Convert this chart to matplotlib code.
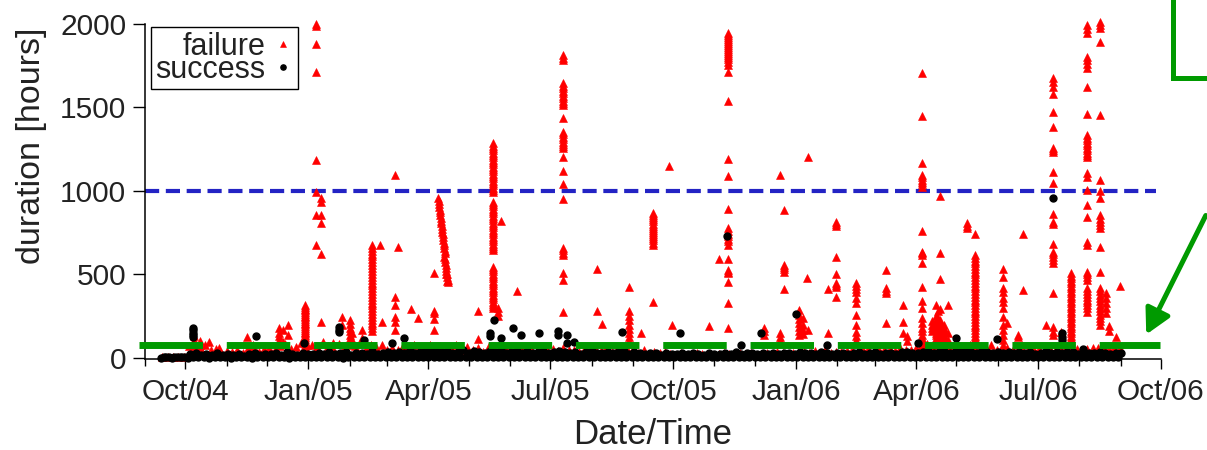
import numpy as np
import matplotlib
matplotlib.use("Agg")
import matplotlib.pyplot as plt
import matplotlib.dates as mdates
from matplotlib.lines import Line2D
from matplotlib.patches import FancyArrowPatch

plt.rcParams['font.family'] = ['Liberation Sans', 'DejaVu Sans']

# ---------------- data ----------------
# failed runs: date -> durations [hours] seen at that date
fail_dates = [
    '2004-10-08', '2004-10-12', '2004-10-19', '2004-10-26', '2004-11-16', '2004-11-21',
    '2004-12-10', '2004-12-13', '2004-12-17', '2004-12-30',
    '2005-01-07', '2005-01-11', '2005-01-20', '2005-01-26', '2005-02-01', '2005-02-03',
    '2005-02-10', '2005-02-18', '2005-02-24', '2005-02-25',
    '2005-03-07', '2005-03-09', '2005-03-19', '2005-03-24', '2005-04-05',
    '2005-05-08', '2005-05-19', '2005-05-23', '2005-05-25', '2005-06-06',
    '2005-07-11', '2005-08-05', '2005-08-09', '2005-08-29', '2005-09-07',
    '2005-09-16', '2005-09-28', '2005-09-30', '2005-10-28', '2005-11-04', '2005-11-11',
    '2005-12-08', '2005-12-20', '2005-12-23',
    '2006-01-03', '2006-01-06', '2006-01-09', '2006-01-10', '2006-01-25', '2006-01-31',
    '2006-02-15', '2006-03-09', '2006-03-22', '2006-03-25',
    '2006-04-05', '2006-04-13', '2006-04-16', '2006-04-17', '2006-04-19', '2006-04-22',
    '2006-04-25', '2006-05-09', '2006-05-15', '2006-06-05', '2006-06-08', '2006-06-16',
    '2006-06-20', '2006-07-07', '2006-07-12', '2006-07-18', '2006-07-26',
    '2006-08-07', '2006-08-16', '2006-08-21', '2006-08-23', '2006-08-28', '2006-08-31',
]
fail_hours = [
    [130, 110, 95, 80, 70], [100, 75, 60], [98], [60], [128], [75, 55],
    [180, 150, 130, 110], [165, 95], [198, 140],
    [317, 305, 296, 287, 276, 265, 254, 244, 233, 222, 212, 201, 190, 180, 168,
     158, 147, 136, 124, 113, 102, 90, 80, 68, 58],
    [2000, 1990, 1878, 1714, 1186, 996, 856, 677],
    [956, 936, 856, 806, 621, 218], [90], [248, 200],
    [230, 205, 180, 160, 140, 120, 100], [150, 110], [168, 120],
    [677, 660, 642, 625, 608, 590, 573, 556, 538, 521, 504, 487, 470, 452, 435, 418,
     401, 384, 366, 349, 332, 315, 298, 280, 263, 246, 229, 212, 195, 178, 160],
    [677], [218],
    [1096, 367, 317, 247, 217, 168], [663], [291], [241], [507, 281, 268, 231, 165],
    [281, 115],
    [1286, 1272, 1258, 1244, 1230, 1216, 1202, 1188, 1174, 1160, 1146, 1132, 1118, 1104,
     1090, 1076, 1062, 1048, 1034, 1020, 1008, 996,
     936, 922, 908, 894, 880, 866, 852, 838, 824, 810, 796, 782, 768, 754, 740, 726,
     712, 698, 684, 670, 658, 647,
     547, 533, 519, 505, 491, 477, 463, 449, 435, 421, 407, 393, 379, 365, 351, 337,
     323, 310, 298],
    [298, 275, 250], [820], [401],
    [1814, 1795, 1784, 1645, 1630, 1615, 1600, 1585, 1570, 1555, 1540, 1525, 1515, 1435,
     1355, 1340, 1325, 1310, 1295, 1280, 1268, 1256, 1205, 1120, 1040, 952, 657, 645,
     630, 617, 507, 467, 277],
    [533, 281], [204], [427, 281, 250, 225, 200, 175, 150, 125, 100], [150],
    [866, 855, 842, 830, 818, 805, 792, 780, 768, 755, 742, 730, 717, 704, 690, 677, 333],
    [1150], [198], [193], [593],
    [1944, 1932, 1920, 1908, 1896, 1884, 1872, 1860, 1848, 1836, 1824, 1812, 1800, 1790,
     1775, 1754, 1711, 1541, 1190, 1090, 890, 777, 760, 745, 730, 715, 700, 677, 591,
     527, 517, 507, 453, 328, 181],
    [178, 160, 140], [1096, 148, 128, 108], [886, 557, 545, 530, 517, 413],
    [290, 260, 235, 210, 185, 160, 140], [240, 200, 170, 145], [481], [1205, 168],
    [413, 152], [816, 805, 792, 607, 501, 447, 437, 427, 367],
    [447, 430, 415, 398, 357, 327, 257, 198, 158, 130, 110, 95],
    [527, 417, 402, 387, 208], [317, 217, 150], [130, 100],
    [1705, 1451, 1169, 1096, 1082, 1068, 1054, 1040, 1026, 760, 637, 627, 617, 567, 423,
     343, 300, 241, 210, 181, 160, 138, 120, 100, 85],
    [221, 200, 180, 160],
    [317, 250, 230, 210, 190, 170, 150, 135, 120, 105, 90, 80],
    [280, 240, 200, 160, 120, 90],
    [970, 630, 471, 293, 230, 210, 190, 170, 150, 130],
    [200, 180, 160, 140, 120, 100], [317, 150, 110],
    [806, 792, 777],
    [742, 617, 600, 583, 567, 550, 533, 517, 500, 483, 467, 450, 433, 417, 400, 383,
     367, 350, 333, 317, 300, 283, 267, 250, 233, 217, 200, 183, 167, 150, 133, 117, 108],
    [533, 487, 417, 397, 357, 337, 297, 247, 198, 168, 138, 108, 78], [208], [128, 138],
    [741, 407], [198],
    [1675, 1650, 1625, 1579, 1475, 1385, 1256, 1246, 1236, 1116, 1046, 860, 816, 801,
     684, 637, 620, 603, 585, 567, 391, 188, 158, 138],
    [158],
    [507, 492, 477, 462, 447, 432, 417, 402, 387, 372, 357, 342, 327, 312, 297, 282,
     267, 252, 237, 222, 207, 192, 177, 162, 147, 132, 117, 102, 87, 72, 60],
    [1994, 1970, 1944, 1804, 1785, 1760, 1735, 1625, 1460, 1335, 1320, 1305, 1290, 1275,
     1260, 1245, 1230, 1218, 1205, 1106, 1086, 1006, 916, 846, 697, 677, 517, 500, 483,
     467, 417, 400, 383, 367, 350, 333, 317, 300, 277],
    [2014, 1994, 1974, 1894, 1455, 1066, 1000, 956, 856, 835, 815, 797, 777, 667, 517,
     419, 400, 380, 360, 340, 320, 300, 280, 260, 240, 220, 198],
    [390, 360, 330, 300, 270], [190, 160], [128], [433],
]

# the slanted streak of failures in April 2005
streak_times = [
    '2005-04-08T10', '2005-04-08T16', '2005-04-08T22', '2005-04-09T04', '2005-04-09T10',
    '2005-04-09T16', '2005-04-09T22', '2005-04-10T04', '2005-04-10T10', '2005-04-10T16',
    '2005-04-10T22', '2005-04-11T04', '2005-04-11T10', '2005-04-11T16', '2005-04-11T22',
    '2005-04-12T04', '2005-04-12T10', '2005-04-12T16', '2005-04-12T22', '2005-04-13T04',
    '2005-04-13T10', '2005-04-12T20', '2005-04-13T04', '2005-04-13T12', '2005-04-13T20',
    '2005-04-14T04', '2005-04-14T12', '2005-04-14T20', '2005-04-15T04', '2005-04-15T12',
    '2005-04-15T20', '2005-04-14T00', '2005-04-15T00',
]
streak_hours = [
    956, 940, 922, 905, 888, 872, 855, 838, 822, 806, 789, 772, 756, 740, 724, 707, 690,
    674, 658, 642, 627, 607, 590, 572, 555, 537, 520, 502, 485, 470, 457, 500, 462,
]

# successful runs standing out of the dense band
ok_dates = [
    '2004-10-07', '2004-11-23', '2004-12-29', '2005-01-24', '2005-02-12', '2005-03-05',
    '2005-03-14', '2005-05-17', '2005-05-20', '2005-05-25', '2005-06-03', '2005-06-09',
    '2005-06-23', '2005-07-07', '2005-07-14', '2005-07-19', '2005-08-24', '2005-10-06',
    '2005-11-10', '2005-11-21', '2005-12-06', '2006-01-01', '2006-01-24', '2006-04-02',
    '2006-05-01', '2006-05-31', '2006-07-12', '2006-07-19', '2006-08-04',
]
ok_hours = [
    [180, 165, 150, 140, 126], [132], [90], [188, 170, 158], [110], [90], [120],
    [150, 130], [228], [118], [178], [138], [148], [160, 135], [140, 90], [98], [158],
    [152], [732], [78], [148], [263], [78], [88], [118], [112], [960], [148, 128, 110],
    [52],
]

# dense band near zero, sampled every few days
band_start = '2004-09-13'
band_step_days = 4
ok_band_low = [
    2, 3, 2, 4, 3, 2, 5, 3, 4, 2, 4, 3, 5, 2, 4, 3, 6, 2, 5, 4,
    3, 5, 4, 6, 2, 4, 5, 3, 6, 4, 5, 3, 6, 4, 2, 5, 4, 6, 3, 5,
    4, 6, 3, 5, 4, 7, 3, 5, 6, 4, 5, 3, 6, 4, 5, 7, 4, 3, 6, 5,
    4, 6, 5, 3, 7, 4, 5, 6, 3, 5, 6, 4, 5, 7, 3, 5, 4, 6, 5, 3,
    5, 4, 6, 3, 5, 7, 4, 5, 3, 6, 4, 5, 3, 6, 4, 5, 7, 3, 5, 4,
    6, 3, 5, 4, 6, 5, 3, 7, 4, 5, 3, 5, 6, 4, 5, 3, 6, 4, 7, 5,
    4, 6, 3, 5, 4, 6, 5, 3, 6, 4, 5, 4, 6, 3, 5, 7, 4, 5, 6, 3,
    5, 6, 4, 5, 3, 6, 5, 4, 7, 5, 4, 5, 6, 3, 5, 4, 6, 5, 3, 6,
    5, 4, 6, 5, 3, 7, 4, 5, 6, 4, 5, 3, 6, 4, 5, 6, 4, 5, 3, 4,
]
ok_band_high = [
    4, 6, 5, 7, 8,
    22, 30, 18, 25, 20, 28, 15, 24,
    18, 26, 14, 22, 30, 19, 25, 21,
    28, 20, 33, 24, 18, 30, 26, 22,
    30, 25, 36, 22, 28, 34, 20, 27,
    32, 26, 40, 24, 30, 35, 28,
    38, 30, 45, 28, 36, 42, 33, 40,
    35, 44, 30, 38, 46, 32, 40,
    36, 28, 42, 34, 48, 30, 38, 44,
    32, 40, 28, 36, 44, 30, 38,
    42, 34, 30, 38, 26, 36, 40, 32,
    30, 38, 28, 34, 40, 26, 36, 30,
    24, 32, 28, 20, 30, 26, 22,
    28, 22, 30, 25, 20, 32, 26, 24,
    30, 26, 34, 22, 28, 32, 24, 30,
    26, 32, 24, 30, 28, 22, 34, 28,
    30, 26, 34, 28, 24, 32, 30, 26,
    28, 34, 26, 30, 36, 24, 32,
    30, 26, 34, 38, 28, 32, 36,
    40, 32, 36, 44, 30, 38, 34, 42,
    36, 30, 40, 34, 28, 38, 32,
    34, 28, 38, 30, 36, 26, 32, 40,
    30, 36, 28, 34, 38, 26, 32, 30,
    28, 34, 30, 26, 32, 28,
]
fail_band = [
    3, 4, 3, 5, 6,
    70, 95, 60, 80, 45, 55, 30, 40,
    35, 50, 28, 60, 45, 38, 55,
    60, 48, 70, 85, 55, 65, 90, 75,
    80, 65, 95, 70, 55, 85, 60, 75,
    70, 90, 55, 80, 65, 75, 50,
    60, 45, 70, 55, 80, 50, 65, 75,
    55, 70, 45, 60, 80, 50, 65,
    45, 60, 38, 70, 55, 42, 65, 50,
    48, 60, 40, 55, 35, 50, 45,
    55, 40, 62, 45, 50, 38, 58, 44,
    50, 42, 60, 38, 55, 46, 40, 52,
    30, 45, 25, 38, 28, 35, 22,
    20, 28, 18, 25, 30, 22, 26, 20,
    22, 30, 25, 18, 28, 24, 32, 20,
    25, 30, 22, 35, 28, 24, 30, 26,
    35, 28, 40, 32, 45, 30, 38, 34,
    40, 50, 35, 45, 55, 38, 48,
    45, 55, 40, 60, 50, 48, 58,
    70, 85, 60, 90, 75, 65, 80, 70,
    65, 80, 55, 70, 60, 75, 50,
    50, 60, 45, 55, 40, 58, 48, 52,
    45, 55, 40, 50, 60, 42, 55, 48,
    55, 60, 58, 62, 55, 60, 58,
]

threshold_high = 1000
threshold_low = 80
x_start, x_end = '2004-09-01', '2006-10-01'


def expand(dates, hours):
    x = np.concatenate([np.full(len(h), np.datetime64(d, 'h')) for d, h in zip(dates, hours)])
    y = np.concatenate([np.asarray(h, dtype=float) for h in hours])
    return x, y


def band_x(values, shift_days=0):
    start = np.datetime64(band_start, 'D') + np.timedelta64(shift_days, 'D')
    return start + np.arange(len(values)) * np.timedelta64(band_step_days, 'D')


fx, fy = expand(fail_dates, fail_hours)
fx = np.concatenate([fx, np.array(streak_times, dtype='datetime64[h]')])
fy = np.concatenate([fy, np.asarray(streak_hours, dtype=float)])
sx, sy = expand(ok_dates, ok_hours)

# ---------------- figure ----------------
W, H = 1207, 450
fig = plt.figure(figsize=(W / 100, H / 100), dpi=100)
ax = fig.add_axes([145 / W, 1 - 359 / H, 1016 / W, 335 / H])

red = '#ff0000'
tri = dict(ls='none', marker='^', ms=6.2, color=red, mec=red, mew=0.4, clip_on=False)
dot = dict(ls='none', marker='o', ms=5.0, color='black', mec='black', clip_on=False)

ax.axhline(threshold_high, xmin=0, xmax=1011 / 1016, color='#2323c4', lw=3,
           dashes=(3.4, 1.6), zorder=1)

ax.plot(band_x(fail_band, 1), fail_band, zorder=2, **tri)
hf, = ax.plot(fx, fy, zorder=2, label='failure', **tri)
ax.plot(band_x(ok_band_high, 2), ok_band_high, zorder=3, **dot)
ax.plot(band_x(ok_band_low), ok_band_low, zorder=3, **dot)
hs, = ax.plot(sx, sy, zorder=3, label='success', **dot)

ax.plot([-6 / 1016, 1015 / 1016], [threshold_low, threshold_low],
        transform=ax.get_yaxis_transform(), color='#009a00', lw=5.0,
        dashes=(9.14, 3.43), solid_capstyle='butt', dash_capstyle='butt',
        clip_on=False, zorder=5)

ax.set_xlim(np.datetime64(x_start), np.datetime64(x_end))
ax.set_ylim(-6, 2000)
ax.set_yticks([0, 500, 1000, 1500, 2000])
ax.xaxis.set_major_locator(mdates.MonthLocator(bymonth=[1, 4, 7, 10]))
ax.xaxis.set_minor_locator(mdates.MonthLocator())
ax.xaxis.set_major_formatter(mdates.DateFormatter('%b/%y'))

for s in ('top', 'right'):
    ax.spines[s].set_visible(False)
for s in ('left', 'bottom'):
    ax.spines[s].set_linewidth(1.1)

txt = '#222222'
ax.tick_params(axis='y', length=8.5, width=1.0, pad=5, labelsize=21.5, labelcolor=txt)
ax.tick_params(axis='x', which='major', length=7.5, width=1.0, pad=6,
               labelsize=21.5, labelcolor=txt)
ax.tick_params(axis='x', which='minor', length=5, width=1.0)

ax.set_xlabel('Date/Time', fontsize=25, color=txt, labelpad=8.5)
ax.set_ylabel('duration [hours]', fontsize=24.5, color=txt)
ax.yaxis.set_label_coords(-98 / 1016, 0.635)

leg = ax.legend(handles=[hf, hs], loc='upper left', bbox_to_anchor=(6 / 1016, 1 - 3 / 335),
                borderaxespad=0, markerfirst=False, fontsize=22, labelspacing=-0.22,
                borderpad=0.15, handletextpad=0.2, handlelength=0.7, markerscale=0.75,
                fancybox=False, framealpha=1, edgecolor='black')
leg.get_frame().set_linewidth(1.0)
for t in leg.get_texts():
    t.set_color(txt)

# green call-out: box corner and arrow at the right edge
green = '#009a00'
fig.add_artist(Line2D([1173 / W, 1173 / W, 1.0], [1.0, 1 - 78 / H, 1 - 78 / H],
                      transform=fig.transFigure, color=green, lw=3.6,
                      solid_joinstyle='miter'))
fig.add_artist(FancyArrowPatch((1.0, 1 - 213 / H), (1145 / W, 1 - 337 / H),
                               transform=fig.transFigure,
                               arrowstyle='-|>,head_length=0.75,head_width=0.4',
                               mutation_scale=20, color=green, lw=3.6))

fig.savefig('out.png', dpi=100)
